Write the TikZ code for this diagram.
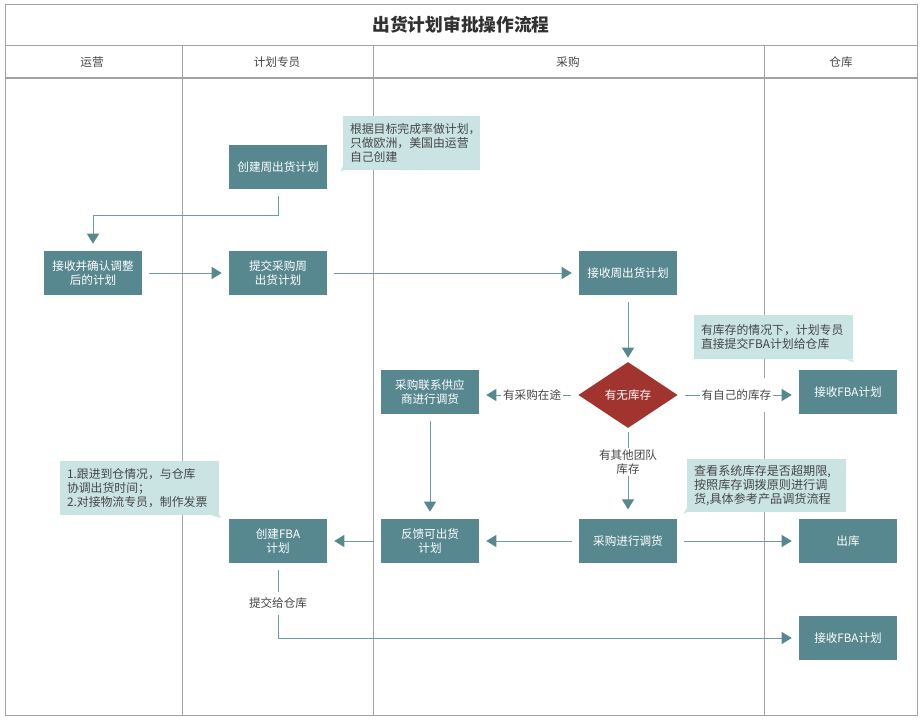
\documentclass[tikz,border=0pt]{standalone}
\usepackage{fontspec}
\usepackage{xcolor}
\setmainfont{Noto Sans CJK SC}
\usetikzlibrary{arrows.meta}
\usetikzlibrary{shapes.geometric}
\definecolor{boxteal}{HTML}{58888F}
\definecolor{linkteal}{HTML}{6D9CA1}
\definecolor{notemint}{HTML}{C9E4E3}
\definecolor{stopred}{HTML}{A23430}
\definecolor{gridgrey}{HTML}{A2A2A2}
\definecolor{inkgrey}{HTML}{464646}
\tikzstyle{lane} = [gridgrey,line width=0.6pt]
\tikzstyle{lanehead} = [inner sep=0pt,text=inkgrey,font=\fontsize{8.7}{10.5}\selectfont]
\tikzstyle{stepbox} = [fill=boxteal,text=white,inner sep=0pt,minimum width=73.5pt,minimum height=33pt,align=center,font=\fontsize{8.7}{10.5}\selectfont]
\tikzstyle{choice} = [diamond,fill=stopred,text=white,inner sep=0pt,minimum width=74.5pt,minimum height=49.5pt,font=\fontsize{8.7}{10.5}\selectfont]
\tikzstyle{note} = [fill=notemint,text=inkgrey,inner sep=0pt,align=left,font=\fontsize{8.9}{10.5}\selectfont]
\tikzstyle{tag} = [fill=white,text=inkgrey,inner sep=1.5pt,minimum height=17pt,align=center,font=\fontsize{8.7}{10.5}\selectfont]
\tikzstyle{link} = [linkteal,line width=0.7pt,-{Triangle[length=7.5pt,width=9pt,color=boxteal]},shorten >=5.25pt,shorten <=5.25pt]

\begin{document}
\begin{tikzpicture}[x=0.75pt,y=-0.75pt]
  \useasboundingbox (0,0) rectangle (921,723);
  % lanes
  \draw[lane] (5,4) rectangle (917,715);
  \draw[lane] (5,45) -- (917,45);
  \draw[lane,line width=1pt] (5,78) -- (917,78);
  \foreach \lanex in {182,373,764}
    \draw[lane] (\lanex,45) -- (\lanex,715);
  \node[font=\bfseries\fontsize{13.3}{16}\selectfont,text=inkgrey!70!black,inner sep=0pt] (title) at (461,25) {出货计划审批操作流程};
  \node[lanehead] (opshead) at (92,62) {运营};
  \node[lanehead] (planhead) at (277,62) {计划专员};
  \node[lanehead] (buyhead) at (568,62) {采购};
  \node[lanehead] (storehead) at (841,62) {仓库};
  % notes
  \node[note,minimum width=102.75pt,minimum height=40.5pt,text width=92.25pt] (planhint) at (411.5,143) {根据目标完成率做计划，\\只做欧洲，美国由运营\\自己创建};
  \node[note,minimum width=119.25pt,minimum height=33pt,text width=108.75pt] (stockhint) at (773.5,337) {有库存的情况下，计划专员\\直接提交FBA计划给仓库};
  \node[note,font=\fontsize{9.1}{10.5}\selectfont,minimum width=119.25pt,minimum height=39.75pt,text width=108.75pt] (checkhint) at (766.5,485.5) {查看系统库存是否超期限,\\按照库存调拨原则进行调\\货,具体参考产品调货流程};
  \node[note,minimum width=119.25pt,minimum height=40.5pt,text width=108.75pt] (trackhint) at (139.5,488) {1.跟进到仓情况，与仓库\\协调出货时间；\\2.对接物流专员，制作发票};
  \fill[notemint] ([yshift=3pt]planhint.south west) -- ++(-2.25,5.25) -- ++(7,-3) -- cycle;
  \fill[notemint] ([xshift=-6pt]stockhint.south east) -- ++(9,3) -- ++(-3,-3) -- cycle;
  \fill[notemint] ([yshift=3pt]checkhint.south west) -- ++(-3.5,5.25) -- ++(8,-3) -- cycle;
  \fill[notemint] ([xshift=-6pt]trackhint.south east) -- ++(10,3) -- ++(-4,-6) -- cycle;
  % steps
  \node[stepbox] (createplan) at (278,167) {创建周出货计划};
  \node[stepbox] (confirm) at (93,273) {接收并确认调整\\后的计划};
  \node[stepbox] (submit) at (278,273) {提交采购周\\出货计划};
  \node[stepbox] (receive) at (628,273) {接收周出货计划};
  \node[choice] (stock) at (628,395) {有无库存};
  \node[stepbox] (contact) at (430,392) {采购联系供应\\商进行调货};
  \node[stepbox] (fbaplan) at (848,392) {接收FBA计划};
  \node[stepbox] (createfba) at (278,541) {创建FBA\\计划};
  \node[stepbox] (feedback) at (430,541) {反馈可出货\\计划};
  \node[stepbox] (transfer) at (628,541) {采购进行调货};
  \node[stepbox] (outbound) at (848,541) {出库};
  \node[stepbox] (fbaplanb) at (848,638) {接收FBA计划};
  % links
  \draw[link] (createplan.south) -- ++(0,26) -| (confirm.north);
  \path[link]
    (confirm) edge[link] (submit)
    (submit) edge[link] (receive)
    (contact) edge[link] (feedback)
    (transfer) edge[link] (feedback)
    (feedback) edge[link] (createfba)
    (transfer) edge[link] (outbound);
  \path[link]
    (receive) edge[link,shorten >=3pt] (stock)
    (stock.west) edge[link] node[tag,pos=.465] (intransit) {有采购在途} (stock.west -| contact.east)
    (stock.east) edge[link] node[tag,pos=.484,minimum height=26pt] (ownstock) {有自己的库存} (stock.east -| fbaplan.west)
    (stock.south) edge[link,shorten <=3pt,shorten >=7pt] node[tag,pos=.374] (otherteam) {有其他团队\\库存} (transfer.north);
  \draw[link] (createfba.south) |- node[tag,pos=.267] (tostore) {提交给仓库} (fbaplanb.west);
\end{tikzpicture}
\end{document}
